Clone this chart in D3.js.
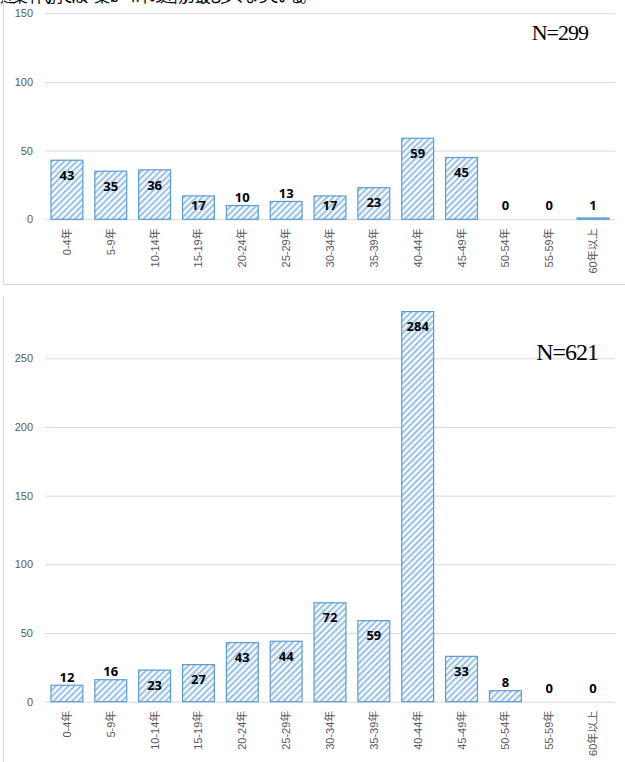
<!DOCTYPE html>
<html>
<head>
<meta charset="utf-8">
<script src="https://cdn.jsdelivr.net/npm/d3@7"></script>
<style>
  html, body { margin: 0; padding: 0; background: #fff; }
  svg { display: block; }
</style>
</head>
<body>
<svg id="chart" width="625" height="762"></svg>
<script>
(function() {
    'use strict';

    // Data
    const categories = ['0-4年', '5-9年', '10-14年', '15-19年', '20-24年', '25-29年', '30-34年',
        '35-39年', '40-44年', '45-49年', '50-54年', '55-59年', '60年以上'];
    const countsTop = [43, 35, 36, 17, 10, 13, 17, 23, 59, 45, 0, 0, 1];
    const countsBottom = [12, 16, 23, 27, 43, 44, 72, 59, 284, 33, 8, 0, 0];
    const ticksTop = [0, 50, 100, 150];
    const ticksBottom = [0, 50, 100, 150, 200, 250];
    const totalTop = 'N=299';
    const totalBottom = 'N=621';
    const captionText = '建築年代別では、築40～44年の建物が最も多くなっている。';

    // Style config
    const CONFIG = {
        colors: {
            grid: '#d9d9d9',
            tick: '#595959',
            barStroke: '#5b9bd5',
            hatch: '#9dc3e6',
            frame: '#d9d9d9'
        },
        x: [45, 615],
        pxPerUnit: 1.3736
    };

    const svg = d3.select('#chart');

    // Hatch pattern (upward diagonal)
    const defs = svg.append('defs');
    const pat = defs.append('pattern')
        .attr('id', 'hatch')
        .attr('patternUnits', 'userSpaceOnUse')
        .attr('width', 4.4)
        .attr('height', 10)
        .attr('patternTransform', 'rotate(45)');
    pat.append('rect').attr('width', 4.4).attr('height', 10).attr('fill', '#fff');
    pat.append('rect').attr('width', 2.2).attr('height', 10).attr('fill', CONFIG.colors.hatch);

    // Clipped text line from the page above (only the bottom of the glyphs shows)
    svg.append('text')
        .attr('x', 0)
        .attr('y', 2)
        .attr('font-family', '"Noto Sans CJK JP", sans-serif')
        .attr('font-size', 16)
        .attr('textLength', 316)
        .attr('fill', '#000')
        .text(captionText);

    // Frames
    svg.append('line')
        .attr('x1', 3.5).attr('x2', 3.5).attr('y1', 0).attr('y2', 284.5)
        .attr('stroke', CONFIG.colors.frame);
    svg.append('line')
        .attr('x1', 3.5).attr('x2', 625).attr('y1', 284.5).attr('y2', 284.5)
        .attr('stroke', CONFIG.colors.frame);
    svg.append('line')
        .attr('x1', 3.5).attr('x2', 3.5).attr('y1', 296).attr('y2', 762)
        .attr('stroke', CONFIG.colors.frame);

    function drawChart(values, ticks, maxTick, baseY, total, totalPos, totalSize) {
        const g = svg.append('g');

        const x = d3.scaleBand()
            .domain(categories)
            .range(CONFIG.x)
            .paddingInner(0.25)
            .paddingOuter(0.125);

        const y = d3.scaleLinear()
            .domain([0, maxTick])
            .range([baseY, baseY - maxTick * CONFIG.pxPerUnit]);

        // Gridlines + y tick labels
        const yAxis = d3.axisLeft(y)
            .tickValues(ticks)
            .tickSize(-(CONFIG.x[1] - CONFIG.x[0]))
            .tickPadding(12);
        const ya = g.append('g')
            .attr('transform', `translate(${CONFIG.x[0]},0)`)
            .call(yAxis);
        ya.select('.domain').remove();
        ya.selectAll('.tick line').attr('stroke', CONFIG.colors.grid);
        ya.selectAll('.tick text')
            .attr('fill', CONFIG.colors.tick)
            .attr('font-family', '"Liberation Sans", sans-serif')
            .attr('font-size', 11);

        // x tick labels (rotated)
        const xAxis = d3.axisBottom(x).tickSize(0).tickPadding(0);
        const xa = g.append('g')
            .attr('transform', `translate(0,${baseY})`)
            .call(xAxis);
        xa.select('.domain').remove();
        xa.selectAll('.tick text')
            .attr('fill', CONFIG.colors.tick)
            .attr('font-family', '"Liberation Sans", "Noto Sans CJK JP", sans-serif')
            .attr('font-size', 11)
            .attr('text-anchor', 'end')
            .attr('dy', null)
            .attr('y', 0)
            .attr('transform', 'translate(4,9) rotate(-90)');

        // Bars
        const data = categories.map((c, i) => ({ c, v: values[i] }));
        g.append('g')
            .selectAll('rect')
            .data(data.filter(d => d.v > 0))
            .join('rect')
            .attr('x', d => x(d.c) + 0.5)
            .attr('width', x.bandwidth() - 1)
            .attr('y', d => y(d.v))
            .attr('height', d => baseY - y(d.v))
            .attr('fill', 'url(#hatch)')
            .attr('stroke', CONFIG.colors.barStroke)
            .attr('stroke-width', 1.2);

        // Data labels: inside the bar end when it fits, otherwise just above
        g.append('g')
            .selectAll('text')
            .data(data)
            .join('text')
            .attr('x', d => x(d.c) + x.bandwidth() / 2)
            .attr('y', d => {
                const top = y(d.v);
                const h = baseY - top;
                return h > 22.5 ? Math.min(top + 15, baseY - 13.5) : Math.min(top - 8, baseY - 13.5);
            })
            .attr('dy', '0.36em')
            .attr('text-anchor', 'middle')
            .attr('font-family', '"Noto Sans", sans-serif')
            .attr('font-weight', 'bold')
            .attr('font-size', 13)
            .attr('fill', '#000')
            .text(d => d.v);

        // Total annotation
        g.append('text')
            .attr('x', totalPos[0])
            .attr('y', totalPos[1])
            .attr('text-anchor', 'end')
            .attr('font-family', '"Liberation Serif", serif')
            .attr('font-size', totalSize)
            .attr('letter-spacing', -1)
            .attr('fill', '#000')
            .text(total);
    }

    drawChart(countsTop, ticksTop, 150, 219.3, totalTop, [588, 40], 22);
    drawChart(countsBottom, ticksBottom, 250, 701.7, totalBottom, [598, 360], 24);
})();
</script>
</body>
</html>
